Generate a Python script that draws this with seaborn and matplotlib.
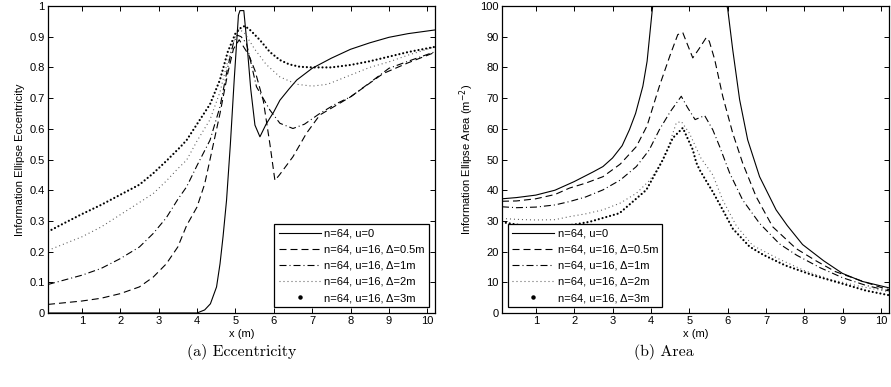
import numpy as np
import pandas as pd
import matplotlib
matplotlib.use("Agg")
import matplotlib.pyplot as plt
from matplotlib.lines import Line2D
import seaborn as sns

# ---------------- data ----------------
labels = ["n=64, u=0", "n=64, u=16, \u0394=0.5m", "n=64, u=16, \u0394=1m",
          "n=64, u=16, \u0394=2m", "n=64, u=16, \u0394=3m"]

# (a) eccentricity
ecc_u0_x = [0.12, 4.0, 4.2, 4.35, 4.51, 4.6, 4.68, 4.77, 4.87, 4.97, 5.08, 5.12, 5.22, 5.3, 5.4,
            5.51, 5.64, 5.8, 6.0, 6.16, 6.4, 6.6, 7.0, 7.5, 8.0, 8.5, 9.0, 9.5, 10.2]
ecc_u0_y = [0.0, 0.0, 0.01, 0.03, 0.085, 0.16, 0.25, 0.367, 0.55, 0.76, 0.97, 0.985, 0.985, 0.88, 0.73,
            0.612, 0.574, 0.615, 0.655, 0.693, 0.73, 0.759, 0.797, 0.83, 0.859, 0.88, 0.898, 0.91, 0.922]

ecc_d05_x = [0.12, 1.0, 1.5, 2.0, 2.5, 2.86, 3.2, 3.5, 3.73, 4.0, 4.2, 4.34, 4.6, 4.8, 4.95, 5.1,
             5.2, 5.35, 5.51, 5.73, 5.9, 6.03, 6.15, 6.5, 6.85, 7.2, 8.0, 8.85, 9.5, 10.2]
ecc_d05_y = [0.028, 0.039, 0.048, 0.063, 0.085, 0.117, 0.16, 0.215, 0.285, 0.345, 0.42, 0.5, 0.65, 0.78,
             0.86, 0.89, 0.87, 0.84, 0.79, 0.69, 0.55, 0.432, 0.45, 0.509, 0.585, 0.645, 0.704, 0.78, 0.815, 0.849]

ecc_d1_x = [0.12, 1.0, 1.5, 2.0, 2.5, 2.86, 3.2, 3.5, 3.73, 4.0, 4.34, 4.6, 4.8, 4.95, 5.05, 5.15,
            5.29, 5.55, 5.9, 6.16, 6.5, 6.8, 7.2, 7.6, 8.0, 8.5, 9.0, 9.5, 10.2]
ecc_d1_y = [0.093, 0.123, 0.145, 0.177, 0.215, 0.259, 0.31, 0.37, 0.411, 0.48, 0.563, 0.672, 0.8, 0.88,
            0.905, 0.9, 0.878, 0.737, 0.661, 0.618, 0.601, 0.615, 0.65, 0.68, 0.704, 0.75, 0.797, 0.82, 0.851]

ecc_d2_x = [0.12, 1.0, 1.5, 2.0, 2.5, 2.86, 3.2, 3.5, 3.73, 4.0, 4.34, 4.6, 4.8, 5.0, 5.1, 5.25,
            5.5, 5.8, 6.16, 6.6, 7.0, 7.4, 8.0, 8.5, 9.0, 9.5, 10.2]
ecc_d2_y = [0.204, 0.248, 0.28, 0.32, 0.36, 0.389, 0.43, 0.47, 0.498, 0.56, 0.63, 0.72, 0.82, 0.9, 0.925,
            0.91, 0.86, 0.81, 0.769, 0.745, 0.739, 0.745, 0.775, 0.8, 0.818, 0.84, 0.867]

ecc_d3_x = [0.12, 0.5, 1.0, 1.5, 2.0, 2.5, 2.86, 3.2, 3.56, 3.73, 4.0, 4.34, 4.6, 4.8, 5.0, 5.15,
            5.25, 5.4, 5.64, 5.9, 6.16, 6.4, 6.68, 7.0, 7.5, 8.0, 8.5, 9.0, 9.5, 10.2]
ecc_d3_y = [0.265, 0.29, 0.322, 0.352, 0.385, 0.418, 0.455, 0.495, 0.54, 0.563, 0.615, 0.68, 0.76, 0.85,
            0.91, 0.93, 0.935, 0.92, 0.889, 0.85, 0.824, 0.81, 0.802, 0.8, 0.8, 0.808, 0.82, 0.835, 0.85, 0.867]

# (b) area
area_u0_x = [0.12, 0.5, 1.0, 1.5, 2.0, 2.5, 2.75, 3.0, 3.25, 3.44, 3.6, 3.79, 3.9, 4.01, 4.05,
             5.0, 5.97, 6.0, 6.13, 6.31, 6.52, 6.83, 7.26, 7.55, 7.95, 8.5, 8.99, 9.5, 10.2]
area_u0_y = [37.2, 37.6, 38.4, 40.0, 42.8, 46.0, 47.7, 50.5, 54.5, 59.7, 65.0, 73.9, 82.0, 95.7, 100.5,
             np.nan, 100.5, 99.0, 85.8, 69.5, 56.4, 44.4, 33.6, 28.5, 22.3, 17.0, 12.9, 10.3, 8.2]

area_d05_x = [0.12, 0.5, 1.0, 1.5, 1.88, 2.3, 2.75, 3.2, 3.62, 3.9, 4.22, 4.5, 4.7, 4.83, 4.95, 5.09,
              5.25, 5.44, 5.52, 5.66, 5.87, 6.13, 6.39, 6.74, 7.17, 7.78, 8.3, 8.8, 9.43, 10.0, 10.2]
area_d05_y = [36.4, 36.5, 37.2, 38.6, 40.7, 42.3, 44.4, 48.5, 54.2, 61.0, 73.9, 84.0, 90.7, 91.3, 87.5, 83.1,
              86.0, 89.7, 88.5, 82.6, 70.6, 58.6, 48.8, 37.9, 28.1, 21.0, 17.0, 13.5, 10.7, 8.3, 7.6]

area_d1_x = [0.12, 0.5, 1.0, 1.5, 1.88, 2.3, 2.75, 3.2, 3.62, 3.95, 4.22, 4.5, 4.79, 4.95, 5.15, 5.4,
             5.61, 5.79, 6.05, 6.39, 6.83, 7.35, 7.8, 8.4, 8.99, 9.6, 10.2]
area_d1_y = [34.6, 34.3, 34.5, 35.2, 36.3, 37.8, 40.1, 43.3, 47.7, 53.0, 59.7, 65.5, 70.6, 67.0, 63.0, 64.3,
             59.7, 54.2, 45.6, 36.8, 29.2, 22.5, 18.8, 14.8, 11.5, 9.0, 7.2]

area_d2_x = [0.12, 0.5, 1.0, 1.5, 1.88, 2.3, 2.75, 3.2, 3.62, 3.95, 4.22, 4.45, 4.66, 4.79, 5.0, 5.3,
             5.61, 5.87, 6.22, 6.65, 7.35, 8.0, 8.65, 9.4, 10.2]
area_d2_y = [30.8, 30.5, 30.3, 30.4, 31.4, 32.3, 33.6, 35.8, 39.0, 43.0, 47.7, 54.0, 61.9, 62.4, 58.6, 50.5,
             45.0, 36.8, 28.5, 22.0, 17.5, 13.8, 11.0, 8.8, 6.9]

area_d3_x = [0.12, 0.5, 1.0, 1.5, 2.0, 2.4, 3.18, 3.88, 4.31, 4.57, 4.83, 5.09, 5.18, 5.27, 5.44, 5.61,
             5.87, 6.13, 6.57, 6.92, 7.5, 8.22, 9.0, 9.6, 10.2]
area_d3_y = [29.6, 28.8, 28.2, 28.2, 28.8, 29.7, 32.5, 40.1, 49.9, 57.0, 60.3, 53.2, 49.0, 46.6, 43.0, 39.5,
             33.6, 27.5, 21.6, 19.0, 15.5, 12.3, 9.5, 7.3, 5.8]

x_ticks = [1, 2, 3, 4, 5, 6, 7, 8, 9, 10]
ecc_ticks = [0, 0.1, 0.2, 0.3, 0.4, 0.5, 0.6, 0.7, 0.8, 0.9, 1]
ecc_ticklabels = ["0", "0.1", "0.2", "0.3", "0.4", "0.5", "0.6", "0.7", "0.8", "0.9", "1"]
area_ticks = [0, 10, 20, 30, 40, 50, 60, 70, 80, 90, 100]

# ---------------- style ----------------
plt.rcParams["font.family"] = ["Liberation Sans", "DejaVu Sans"]
plt.rcParams["font.size"] = 8
plt.rcParams["xtick.direction"] = "in"
plt.rcParams["ytick.direction"] = "in"
plt.rcParams["xtick.top"] = True
plt.rcParams["ytick.right"] = True
plt.rcParams["xtick.major.size"] = 3.5
plt.rcParams["ytick.major.size"] = 3.5
plt.rcParams["axes.linewidth"] = 0.9

LW = 0.8
styles = [
    dict(color="k", lw=LW, ls="-"),
    dict(color="k", lw=LW, ls=(0, (6.3, 3.6))),
    dict(color="k", lw=LW, ls=(0, (6.3, 2.7, 0.9, 2.7))),
    dict(color="0.35", lw=LW, ls=(0, (0.9, 2.7))),
    dict(color="k", lw=1.6, ls=(0, (0.01, 1.75)), dash_capstyle="round"),
]

fig = plt.figure(figsize=(8.91, 3.87), dpi=100)
axL = fig.add_axes([0.0539, 0.1912, 0.4343, 0.7933])
axR = fig.add_axes([0.5634, 0.1912, 0.4343, 0.7933])


def draw(ax, x, y, st):
    x = np.asarray(x, float)
    y = np.asarray(y, float)
    ok = ~np.isnan(y)
    seg_id = np.cumsum(~ok)
    for s in np.unique(seg_id[ok]):
        m = ok & (seg_id == s)
        df = pd.DataFrame({"x": x[m], "y": y[m]})
        sns.lineplot(data=df, x="x", y="y", ax=ax, sort=False, estimator=None, **st)


left_series = [(ecc_u0_x, ecc_u0_y), (ecc_d05_x, ecc_d05_y), (ecc_d1_x, ecc_d1_y),
               (ecc_d2_x, ecc_d2_y), (ecc_d3_x, ecc_d3_y)]
right_series = [(area_u0_x, area_u0_y), (area_d05_x, area_d05_y), (area_d1_x, area_d1_y),
                (area_d2_x, area_d2_y), (area_d3_x, area_d3_y)]

for (x, y), st in zip(left_series, styles):
    draw(axL, x, y, st)
for (x, y), st in zip(right_series, styles):
    draw(axR, x, y, st)

handles = [Line2D([], [], **styles[0]), Line2D([], [], **styles[1]), Line2D([], [], **styles[2]),
           Line2D([], [], **styles[3]),
           Line2D([], [], ls="none", marker="o", markersize=2.2, color="k")]

for ax in (axL, axR):
    ax.set_xlim(0.12, 10.2)
    ax.set_xticks(x_ticks)
    ax.set_xlabel("x (m)", labelpad=1.5)
    ax.tick_params(pad=2.5, width=0.7)
    for sp in ax.spines.values():
        sp.set_color("k")

axL.set_ylim(0, 1)
axL.set_yticks(ecc_ticks)
axL.set_yticklabels(ecc_ticklabels)
axL.set_ylabel("Information Ellipse Eccentricity", labelpad=3)

axR.set_ylim(0, 100)
axR.set_yticks(area_ticks)
axR.set_ylabel("Information Ellipse Area (m$^{-2}$)", labelpad=3)

legkw = dict(frameon=True, fancybox=False, edgecolor="k", framealpha=1, handlelength=3.8,
             labelspacing=0.55, borderaxespad=0.5, borderpad=0.4, handletextpad=0.3)
lgL = axL.legend(handles, labels, loc="lower right", **legkw)
lgR = axR.legend(handles, labels, loc="lower left", **legkw)
for lg in (lgL, lgR):
    lg.get_frame().set_linewidth(0.9)

fig.text(242 / 891, 1 - 352 / 387, "(a) Eccentricity", ha="center", va="center",
         family="cmr10", fontsize=11.5)
fig.text(664 / 891, 1 - 352 / 387, "(b) Area", ha="center", va="center",
         family="cmr10", fontsize=11.5)

fig.savefig("out.png", dpi=100)
